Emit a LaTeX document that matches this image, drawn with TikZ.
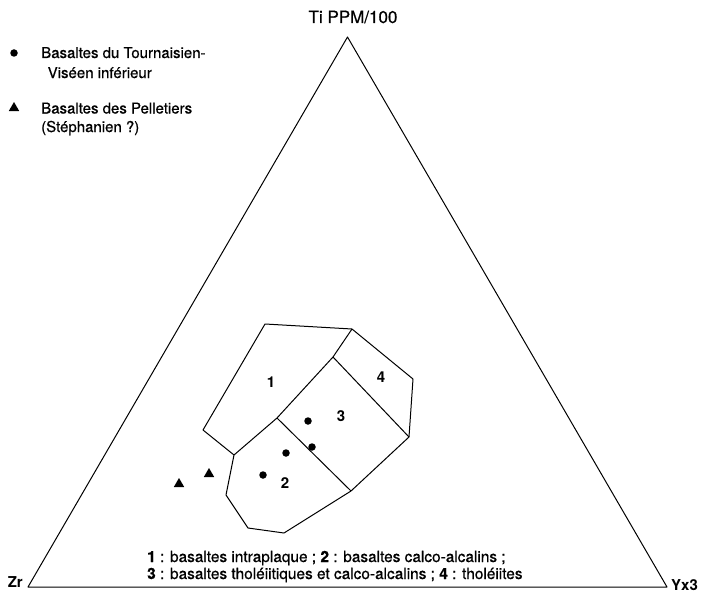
\documentclass[tikz,border=0pt]{standalone}
\usepackage{fontspec}
\setmainfont{TeX Gyre Heros}
\newfontfamily\medfont{TeX Gyre Heros}[FakeBold=0.6]
\usetikzlibrary{shapes.geometric}
\begin{document}
\begin{tikzpicture}[x=1pt,y=-1pt,
  edge/.style={line width=1pt, line join=round},
  dot/.style={circle, fill=black, inner sep=0pt, minimum size=7.5pt},
  tri/.style={regular polygon, regular polygon sides=3, fill=black, inner sep=0pt, minimum size=12pt},
  lbl/.style={font=\medfont\fontsize{15}{18}\selectfont, inner sep=0pt, anchor=base west},
  axl/.style={font=\fontsize{15}{18}\selectfont\bfseries, inner sep=0pt},
  capt/.style={font=\medfont\fontsize{15.4}{18}\selectfont, inner sep=0pt, anchor=base west},
  num/.style={font=\fontsize{15}{18}\selectfont\bfseries, inner sep=0pt}]
\useasboundingbox (0,0) rectangle (712,594);
% ternary triangle
\coordinate (Zr) at (28,587);
\coordinate (Yx) at (667,587);
\coordinate (Ti) at (347.5,37);
\draw[edge] (Zr) -- (Yx) -- (Ti) -- cycle;
\node[font=\medfont\fontsize{17}{20}\selectfont, inner sep=0pt, anchor=base] (tit) at (353,23) {Ti PPM/100};
\node[axl, anchor=base east] (zrl) at (23,587) {Zr};
\node[axl, anchor=base west] (yxl) at (671,590) {Yx3};
% legend
\node[dot] (ld) at (14,53) {};
\node[lbl] (l1) at (41,58) {Basaltes du Tournaisien-};
\node[lbl] (l2) at (47.5,78) {Viséen inférieur};
\node[tri] (lt) at (14,108) {};
\node[lbl] (l3) at (41,113.5) {Basaltes des Pelletiers};
\node[lbl] (l4) at (41,132) {(Stéphanien ?)};
% fields
\coordinate (A) at (265,324);
\coordinate (B) at (352,329);
\coordinate (C) at (413,379);
\coordinate (D) at (409,437);
\coordinate (E) at (351,491);
\coordinate (F) at (284,533);
\coordinate (G) at (248,528);
\coordinate (H) at (226,495);
\coordinate (I) at (234,455);
\coordinate (J) at (203,430);
\coordinate (K) at (333,357);
\coordinate (L) at (277,418);
\draw[edge] (A) -- (B) -- (C) -- (D) -- (E) -- (F) -- (G) -- (H) -- (I) -- (J) -- cycle;
\draw[edge] (B) -- (K) -- (L) -- (I);
\draw[edge] (K) -- (D);
\draw[edge] (L) -- (E);
\node[num] (f1) at (271,382) {1};
\node[num] (f4) at (381,377) {4};
\node[num] (f3) at (341,416) {3};
\node[num] (f2) at (285,483) {2};
% samples
\node[dot] (s1) at (308,421) {};
\node[dot] (s2) at (312,447) {};
\node[dot] (s3) at (286,453) {};
\node[dot] (s4) at (263,475) {};
\node[tri] (t1) at (179,484) {};
\node[tri] (t2) at (209,474) {};
% caption
\node[capt] (c1) at (147,562) {\textbf{1} : basaltes intraplaque ; \textbf{2} : basaltes calco-alcalins ;};
\node[capt] (c2) at (147,579) {\textbf{3} : basaltes tholéiitiques et calco-alcalins ; \textbf{4} : tholéiites};
\end{tikzpicture}
\end{document}
